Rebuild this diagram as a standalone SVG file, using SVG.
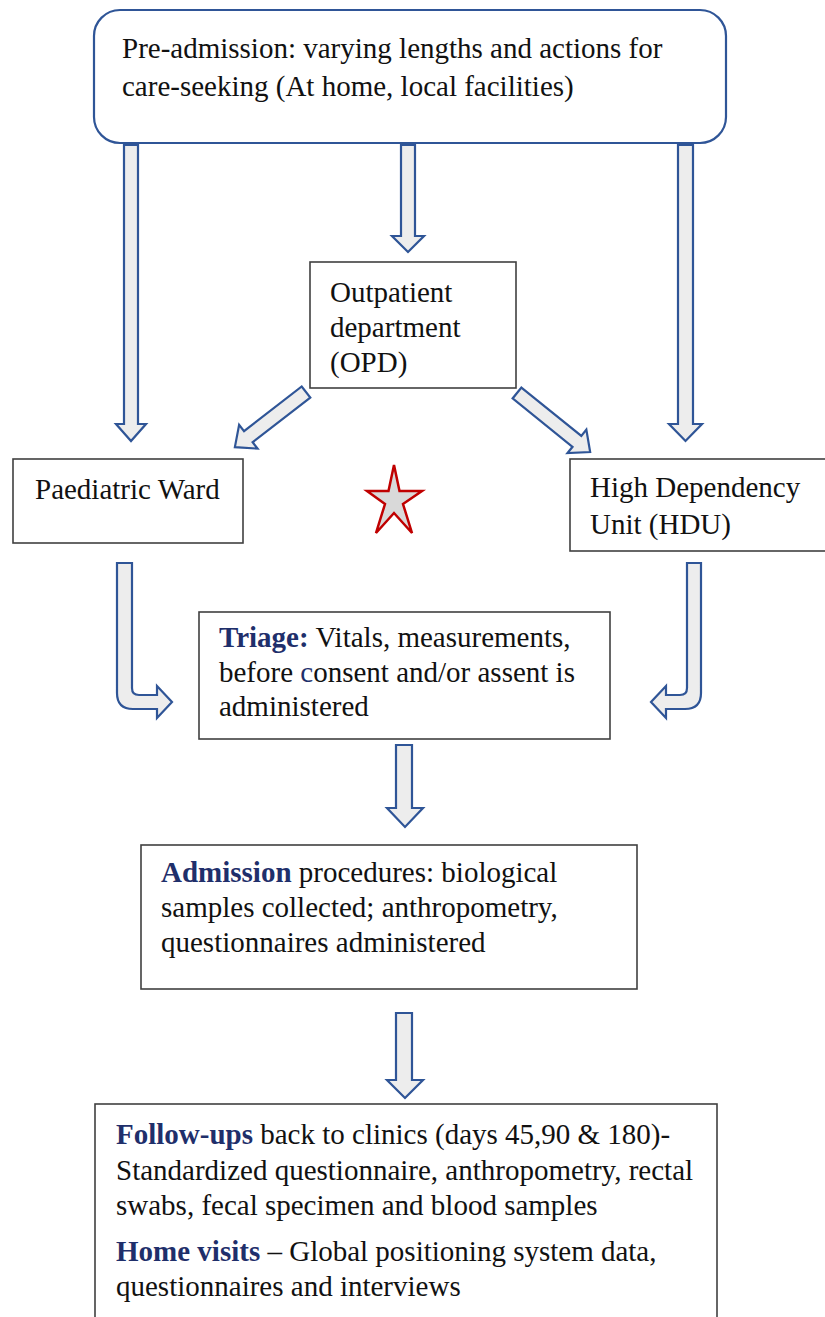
<svg xmlns="http://www.w3.org/2000/svg" width="825" height="1317" viewBox="0 0 825 1317">
<style>
.box{fill:#fff;stroke:#404040;stroke-width:1.6}
.top{fill:#fff;stroke:#2F5597;stroke-width:2.2}
.arr{fill:#EDEDED;stroke:#2F5597;stroke-width:2.2;stroke-linejoin:miter}
.t{font-family:"Liberation Serif","Times New Roman",serif;font-size:29px;fill:#111}
.b{font-weight:bold;fill:#1F2F6B}
.n{fill:#1F2F6B}
</style>
<rect width="825" height="1317" fill="#fff"/>
<g id="connectors">
<path class="arr" d="M124,145 L138,145 L138,424 L146,424 L131,441 L116,424 L124,424 Z"/>
<path class="arr" d="M678,145 L693,145 L693,424 L702,424 L685.5,441 L669,424 L678,424 Z"/>
<path class="arr" d="M401,145 L415,145 L415,236 L424,236 L408,252 L392,236 L401,236 Z"/>
<path class="arr" transform="translate(306,392) rotate(142.2)" d="M0,-7 L73,-7 L73,-15 L90,0 L73,15 L73,7 L0,7 Z"/>
<path class="arr" transform="translate(517,393) rotate(38.9)" d="M0,-7 L77,-7 L77,-15 L94,0 L77,15 L77,7 L0,7 Z"/>
<path class="arr" d="M117,563 L132,563 L132,688 Q132,695 139,695 L157,695 L157,686 L172,702 L157,718 L157,709 L133,709 Q117,709 117,693 Z"/>
<path class="arr" d="M687,563 L701,563 L701,693 Q701,709 685,709 L666,709 L666,718 L651,702 L666,686 L666,695 L680,695 Q687,695 687,688 Z"/>
<path class="arr" d="M396,745 L412,745 L412,808 L423,808 L405,827 L387,808 L396,808 Z"/>
<path class="arr" d="M396,1013 L412,1013 L412,1080 L423,1080 L405,1098 L387,1080 L396,1080 Z"/>
</g>
<g id="preadmission">
<rect class="top" x="94" y="10" width="632" height="133" rx="26"/>
<text class="t" x="122" y="58">Pre-admission: varying lengths and actions for</text>
<text class="t" x="122" y="96">care-seeking (At home, local facilities)</text>
</g>
<g id="opd">
<rect class="box" x="310" y="262" width="206" height="126"/>
<text class="t" x="330" y="302">Outpatient</text>
<text class="t" x="330" y="337">department</text>
<text class="t" x="330" y="372">(OPD)</text>
</g>
<g id="paediatric">
<rect class="box" x="13" y="459" width="230" height="84"/>
<text class="t" x="35" y="499">Paediatric Ward</text>
</g>
<g id="hdu">
<rect class="box" x="570" y="459" width="260" height="92"/>
<text class="t" x="590" y="497">High Dependency</text>
<text class="t" x="590" y="534">Unit (HDU)</text>
</g>
<g id="star">
<polygon points="394,465 399.5,491 422,491 403,504 412,533 394,513 376,533 385,504 367,491 388.5,491" fill="#D9D9D9" stroke="#C00000" stroke-width="2.5" stroke-linejoin="miter"/>
</g>
<g id="triage">
<rect class="box" x="199" y="612" width="411" height="127"/>
<text class="t" x="219" y="647"><tspan class="b">Triage:</tspan> Vitals, measurements,</text>
<text class="t" x="219" y="682">before <tspan class="n">c</tspan>onsent and/or assent is</text>
<text class="t" x="219" y="716">administered</text>
</g>
<g id="admission">
<rect class="box" x="141" y="845" width="496" height="144"/>
<text class="t" x="161" y="882"><tspan class="b">Admission</tspan> procedures: biological</text>
<text class="t" x="161" y="917">samples collected; anthropometry,</text>
<text class="t" x="161" y="952">questionnaires administered</text>
</g>
<g id="followups">
<rect class="box" x="95" y="1104" width="622" height="240"/>
<text class="t" x="116" y="1144"><tspan class="b">Follow-ups</tspan> back to clinics (days 45,90 &amp; 180)-</text>
<text class="t" x="116" y="1180">Standardized questionnaire, anthropometry, rectal</text>
<text class="t" x="116" y="1215">swabs, fecal specimen and blood samples</text>
<text class="t" x="116" y="1261"><tspan class="b">Home visits</tspan> – Global positioning system data,</text>
<text class="t" x="116" y="1296">questionnaires and interviews</text>
</g>
</svg>
